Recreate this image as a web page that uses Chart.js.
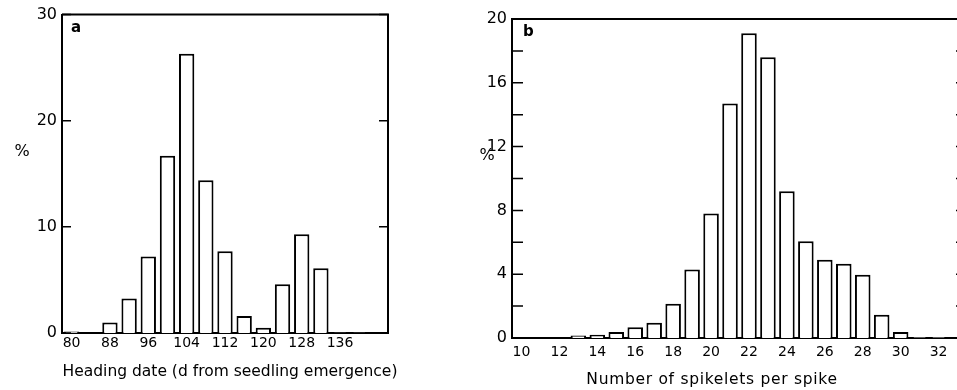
<!DOCTYPE html>
<html>
<head>
<meta charset="utf-8">
<script src="https://cdn.jsdelivr.net/npm/chart.js@4.4.0/dist/chart.umd.min.js"></script>
<style>
    html, body { margin: 0; padding: 0; background: #fff; overflow: hidden; }
    #wrap { position: relative; width: 957px; height: 390px; overflow: hidden; }
    #boxA { position: absolute; left: 0; top: 0; width: 400px; height: 390px; }
    #boxB { position: absolute; left: 440px; top: 0; width: 540px; height: 390px; }
</style>
</head>
<body>
<div id="wrap">
    <div id="boxA"><canvas id="chartA"></canvas></div>
    <div id="boxB"><canvas id="chartB"></canvas></div>
</div>
<script>
    // Panel a: heading date, 4-day classes
    const headingDays = ['80', '84', '88', '92', '96', '100', '104', '108', '112', '116', '120', '124', '128', '132', '136', '140', '144'];
    const headingPct = [0.15, 0, 1.0, 3.25, 7.2, 16.7, 26.3, 14.4, 7.7, 1.6, 0.5, 4.6, 9.3, 6.1, 0.05, 0.05, 0];
    const headingTickLabels = ['80', '88', '96', '104', '112', '120', '128', '136'];

    // Panel b: spikelets per spike
    const spikelets = ['10', '11', '12', '13', '14', '15', '16', '17', '18', '19', '20', '21', '22', '23', '24', '25', '26', '27', '28', '29', '30', '31', '32', '33'];
    const spikeletPct = [0, 0, 0, 0.15, 0.2, 0.38, 0.67, 0.95, 2.15, 4.3, 7.8, 14.7, 19.1, 17.6, 9.2, 6.06, 4.9, 4.65, 3.96, 1.45, 0.38, 0.05, 0.05, 0];
    const spikeletTickLabels = ['10', '12', '14', '16', '18', '20', '22', '24', '26', '28', '30', '32'];

    const FONT = '"DejaVu Sans", sans-serif';

    // Frame (top + right lines), inward y ticks and free text
    const frameTicks = {
        id: 'frameTicks',
        afterDatasetsDraw(chart, args, opts) {
            const { ctx, chartArea: a, scales: { y } } = chart;
            ctx.save();
            ctx.strokeStyle = '#000';
            ctx.lineWidth = 2;
            ctx.beginPath();
            ctx.moveTo(a.left, a.top);
            ctx.lineTo(a.right, a.top);
            ctx.lineTo(a.right, a.bottom);
            ctx.stroke();

            ctx.lineWidth = 1.5;
            y.ticks.forEach(t => {
                const py = y.getPixelForValue(t.value);
                ctx.beginPath();
                ctx.moveTo(a.left, py);
                ctx.lineTo(a.left + opts.len, py);
                ctx.moveTo(a.right, py);
                ctx.lineTo(a.right - opts.len, py);
                ctx.stroke();
            });

            ctx.fillStyle = '#000';
            ctx.textBaseline = 'middle';
            (opts.texts || []).forEach(t => {
                ctx.font = t.font;
                ctx.letterSpacing = t.spacing || '0px';
                ctx.textAlign = t.align || 'center';
                ctx.fillText(t.text, t.x, t.y);
            });
            ctx.restore();
        }
    };

    function makeChart(id, cfg) {
        return new Chart(document.getElementById(id), {
            type: 'bar',
            data: {
                labels: cfg.labels,
                datasets: [{
                    data: cfg.values,
                    backgroundColor: '#fff',
                    borderColor: '#000',
                    borderWidth: 2,
                    borderSkipped: 'bottom',
                    barPercentage: cfg.barPct,
                    categoryPercentage: 1
                }]
            },
            options: {
                responsive: true,
                maintainAspectRatio: false,
                animation: false,
                layout: { padding: cfg.padding },
                plugins: {
                    legend: { display: false },
                    tooltip: { enabled: false },
                    frameTicks: { len: cfg.tickLen, texts: cfg.texts }
                },
                scales: {
                    x: {
                        grid: { display: false, drawTicks: false },
                        border: { display: true, color: '#000', width: 2 },
                        afterFit: s => { s.height = cfg.xHeight; },
                        ticks: {
                            autoSkip: false,
                            maxRotation: 0,
                            padding: cfg.xPad,
                            color: '#000',
                            font: { family: FONT, size: 14 },
                            callback: function (value) {
                                const l = this.getLabelForValue(value);
                                return cfg.tickLabels.includes(l) ? l : '';
                            }
                        }
                    },
                    y: {
                        min: 0,
                        max: cfg.yMax,
                        grid: { display: false, drawTicks: false },
                        border: { display: true, color: '#000', width: 2 },
                        afterFit: s => { s.width = cfg.yWidth; },
                        ticks: {
                            stepSize: cfg.step,
                            padding: 5,
                            color: '#000',
                            font: { family: FONT, size: 16 },
                            callback: v => (v % cfg.labelEvery === 0 ? v : '')
                        }
                    }
                }
            },
            plugins: [frameTicks]
        });
    }

    makeChart('chartA', {
        labels: headingDays,
        values: headingPct,
        tickLabels: headingTickLabels,
        barPct: 0.8,
        padding: { top: 14, right: 12, bottom: 0, left: 0 },
        xHeight: 57,
        yWidth: 62,
        xPad: 2,
        yMax: 30,
        step: 10,
        labelEvery: 10,
        tickLen: 9,
        texts: [
            { text: '%', x: 22, y: 152, font: '16px ' + FONT },
            { text: 'a', x: 71, y: 28, font: 'bold 15px ' + FONT, align: 'left' },
            { text: 'Heading date (d from seedling emergence)', x: 230, y: 372, font: '15.5px ' + FONT }
        ]
    });

    makeChart('chartB', {
        labels: spikelets,
        values: spikeletPct,
        tickLabels: spikeletTickLabels,
        barPct: 0.82,
        padding: { top: 19, right: 13, bottom: 0, left: 0 },
        xHeight: 52,
        yWidth: 72,
        xPad: 6,
        yMax: 20,
        step: 2,
        labelEvery: 4,
        tickLen: 11,
        texts: [
            { text: '%', x: 47, y: 156, font: '16px ' + FONT },
            { text: 'b', x: 83, y: 32, font: 'bold 15px ' + FONT, align: 'left' },
            { text: 'Number of spikelets per spike', x: 272, y: 380, font: '15.5px ' + FONT, spacing: '0.7px' }
        ]
    });
</script>
</body>
</html>
